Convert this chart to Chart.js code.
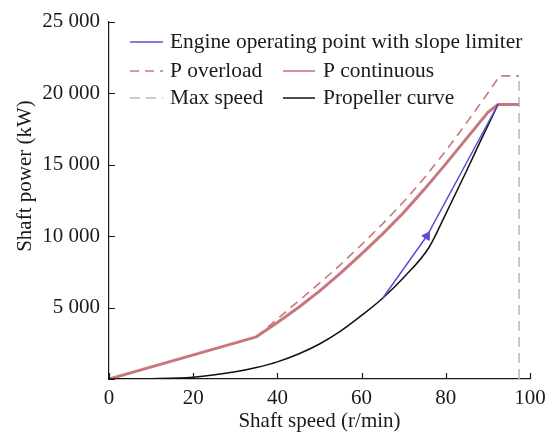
<!DOCTYPE html>
<html>
<head>
<meta charset="utf-8">
<title>Shaft power vs shaft speed</title>
<script src="https://cdn.jsdelivr.net/npm/chart.js@4/dist/chart.umd.min.js"></script>
<style>
  html, body { margin: 0; padding: 0; background: #fff; }
  #wrap { position: relative; width: 555px; height: 432px; }
</style>
</head>
<body>
<div id="wrap"><canvas id="powerChart"></canvas></div>
<script>
// shaft speed (r/min) / shaft power (kW) for each curve
const contSpeed = [0, 35, 40, 45, 50, 55, 60, 65, 70, 75, 80, 85, 90, 92.4, 97.4];
const contPower = [0, 2950, 3950, 5000, 6150, 7400, 8750, 10150, 11650, 13300, 15050, 16850, 18650, 19200, 19200];

const ovlSpeed = [35, 40, 45, 50, 55, 60, 65, 70, 75, 80, 85, 90, 92.8, 97.4];
const ovlPower = [2950, 4200, 5450, 6700, 8000, 9400, 10850, 12400, 14100, 15950, 17950, 20000, 21200, 21200];

const propSpeed = [0, 10, 20, 30, 35, 40, 45, 50, 55, 60, 65, 70, 76, 80, 85, 88, 92.4];
const propPower = [0, 20, 120, 500, 800, 1200, 1750, 2450, 3350, 4450, 5650, 7100, 9200, 11550, 14600, 16500, 19200];

const engSpeed = [65, 75.5, 92.4];
const engPower = [5650, 10000, 19200];

const maxSpeed = [97.4, 97.4];
const maxPower = [0, 21200];

const arrowSpeed = [75.5];
const arrowPower = [10000];

const xTicks = [0, 20, 40, 60, 80, 100];
const yTicks = [0, 5000, 10000, 15000, 20000, 25000];

const FONT = "'Liberation Serif', 'Times New Roman', serif";
const INK = '#1a1a1a';
const ROSE = '#c8787c';
const BLUE = '#5b4fd8';

function pts(xs, ys) {
  return xs.map(function (v, i) { return { x: v, y: ys[i] }; });
}

function fmt(v) {
  return String(v).replace(/\B(?=(\d{3})+(?!\d))/g, ' ');
}

// legend drawn inside the plot, rows of dataset indices
const legendRows = [[0], [1, 2], [3, 4]];

const insideLegend = {
  id: 'insideLegend',
  afterDraw: function (chart) {
    const ctx = chart.ctx;
    const cols = [{ x0: 130, x1: 163, tx: 170 }, { x0: 283, x1: 315, tx: 323 }];
    const rowY = [42, 71, 98];
    ctx.save();
    ctx.font = '21.4px ' + FONT;
    ctx.textBaseline = 'middle';
    ctx.fillStyle = INK;
    legendRows.forEach(function (row, r) {
      row.forEach(function (idx, c) {
        const ds = chart.data.datasets[idx];
        const col = cols[c];
        const y = rowY[r];
        ctx.save();
        ctx.strokeStyle = ds.borderColor;
        ctx.lineWidth = Math.min(ds.borderWidth, 1.6);
        ctx.setLineDash(ds.borderDash || []);
        ctx.beginPath();
        ctx.moveTo(col.x0, y);
        ctx.lineTo(col.x1, y);
        ctx.stroke();
        ctx.restore();
        ctx.fillText(ds.label, col.tx, y);
      });
    });
    ctx.restore();
  }
};

// inward tick marks and the rotated y title
const axisDecor = {
  id: 'axisDecor',
  afterDraw: function (chart) {
    const ctx = chart.ctx;
    const area = chart.chartArea;
    const xs = chart.scales.x;
    const ys = chart.scales.y;
    ctx.save();
    ctx.strokeStyle = INK;
    ctx.lineWidth = 1.2;
    ctx.beginPath();
    xs.ticks.forEach(function (t) {
      const px = Math.round(xs.getPixelForValue(t.value)) + 0.5;
      ctx.moveTo(px, area.bottom);
      ctx.lineTo(px, area.bottom - 6);
    });
    ys.ticks.forEach(function (t) {
      const py = Math.round(ys.getPixelForValue(t.value)) + 0.5;
      ctx.moveTo(area.left, py);
      ctx.lineTo(area.left + 6, py);
    });
    ctx.stroke();

    ctx.translate(25, 176);
    ctx.rotate(-Math.PI / 2);
    ctx.font = '21px ' + FONT;
    ctx.fillStyle = INK;
    ctx.textAlign = 'center';
    ctx.textBaseline = 'middle';
    ctx.fillText('Shaft power (kW)', 0, 0);
    ctx.restore();
  }
};

const ctxEl = document.getElementById('powerChart');
new Chart(ctxEl.getContext('2d'), {
  type: 'line',
  data: {
    datasets: [
      {
        label: 'Engine operating point with slope limiter',
        data: pts(engSpeed, engPower),
        borderColor: BLUE,
        borderWidth: 1.5,
        pointRadius: 0,
        order: 0
      },
      {
        label: 'P overload',
        data: pts(ovlSpeed, ovlPower),
        borderColor: ROSE,
        borderWidth: 1.6,
        borderDash: [9, 6],
        pointRadius: 0,
        order: 4
      },
      {
        label: 'P continuous',
        data: pts(contSpeed, contPower),
        borderColor: ROSE,
        borderWidth: 3,
        borderJoinStyle: 'round',
        pointRadius: 0,
        order: 3
      },
      {
        label: 'Max speed',
        data: pts(maxSpeed, maxPower),
        borderColor: '#b9bdb9',
        borderWidth: 1.6,
        borderDash: [10, 6],
        pointRadius: 0,
        order: 5
      },
      {
        label: 'Propeller curve',
        data: pts(propSpeed, propPower),
        borderColor: '#111',
        borderWidth: 1.5,
        cubicInterpolationMode: 'monotone',
        pointRadius: 0,
        order: 1
      },
      {
        label: 'arrow',
        data: pts(arrowSpeed, arrowPower),
        showLine: false,
        pointStyle: 'triangle',
        pointRadius: 5,
        rotation: 33,
        backgroundColor: BLUE,
        borderColor: BLUE,
        borderWidth: 1,
        order: 0
      }
    ]
  },
  options: {
    responsive: true,
    maintainAspectRatio: false,
    animation: false,
    layout: { padding: { top: 20, right: 25, left: 0, bottom: 0 } },
    plugins: {
      legend: { display: false },
      tooltip: { enabled: false }
    },
    scales: {
      x: {
        type: 'linear',
        min: 0,
        max: 100,
        afterBuildTicks: function (s) { s.ticks = xTicks.map(function (v) { return { value: v }; }); },
        afterFit: function (s) { s.height = 53; },
        grid: { display: false, drawTicks: false },
        border: { display: true, color: INK, width: 1.2 },
        ticks: { color: INK, padding: 7, maxRotation: 0, font: { family: FONT, size: 21 } },
        title: {
          display: true,
          text: 'Shaft speed (r/min)',
          color: INK,
          font: { family: FONT, size: 21 },
          padding: { top: 0, bottom: -2 }
        }
      },
      y: {
        type: 'linear',
        min: 0,
        max: 25000,
        afterBuildTicks: function (s) { s.ticks = yTicks.map(function (v) { return { value: v }; }); },
        afterFit: function (s) { s.width = 109; },
        grid: { display: false, drawTicks: false },
        border: { display: true, color: INK, width: 1.2 },
        ticks: {
          color: INK,
          padding: 9,
          font: { family: FONT, size: 21 },
          callback: function (v) { return v === 0 ? '' : fmt(v); }
        }
      }
    }
  },
  plugins: [insideLegend, axisDecor]
});
</script>
</body>
</html>
